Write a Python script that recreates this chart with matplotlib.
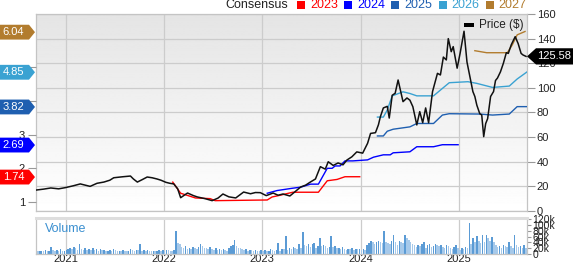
import matplotlib
matplotlib.use('Agg')
import matplotlib.pyplot as plt
import numpy as np
from matplotlib.patches import Polygon, Rectangle
from matplotlib.transforms import blended_transform_factory

plt.rcParams['font.family'] = ['Liberation Sans', 'DejaVu Sans']

# weekly close ($), dates as decimal years
price_dates = [2020.70, 2020.78, 2020.85, 2020.93, 2021.00, 2021.08, 2021.15, 2021.25, 2021.32, 2021.39,
               2021.45, 2021.49, 2021.58, 2021.66, 2021.69, 2021.73, 2021.78, 2021.83, 2021.88, 2021.93,
               2021.97, 2022.02, 2022.06, 2022.10, 2022.14, 2022.17, 2022.21, 2022.24, 2022.30, 2022.34,
               2022.42, 2022.49, 2022.55, 2022.60, 2022.66, 2022.73, 2022.77, 2022.81, 2022.88, 2022.93,
               2022.98, 2023.04, 2023.11, 2023.16, 2023.21, 2023.28, 2023.33, 2023.39, 2023.44, 2023.49,
               2023.54, 2023.59, 2023.64, 2023.67, 2023.72, 2023.77, 2023.82, 2023.86, 2023.91, 2023.96,
               2024.02, 2024.07, 2024.10, 2024.15, 2024.18, 2024.20, 2024.23, 2024.27, 2024.29, 2024.32,
               2024.35, 2024.38, 2024.43, 2024.47, 2024.50, 2024.53, 2024.57, 2024.60, 2024.63, 2024.66,
               2024.69, 2024.73, 2024.78, 2024.81, 2024.84, 2024.87, 2024.89, 2024.92, 2024.94, 2024.98,
               2025.01, 2025.05, 2025.08, 2025.11, 2025.14, 2025.16, 2025.18, 2025.21, 2025.23, 2025.25,
               2025.27, 2025.29, 2025.32, 2025.35, 2025.37, 2025.39, 2025.42, 2025.45, 2025.48, 2025.50,
               2025.53, 2025.57, 2025.60, 2025.63, 2025.65, 2025.68]
price_values = [17.0, 17.8, 18.7, 18.0, 19.0, 20.5, 22.0, 20.0, 22.5, 23.5,
                25.0, 27.0, 27.8, 28.4, 26.0, 23.5, 25.5, 27.6, 27.0, 26.0,
                25.0, 23.3, 22.5, 22.0, 18.0, 10.8, 13.0, 14.6, 12.5, 11.4,
                10.0, 8.4, 10.5, 13.8, 11.5, 10.6, 13.0, 15.4, 14.0, 15.0,
                14.9, 12.5, 14.6, 12.8, 13.8, 12.2, 15.5, 19.5, 21.0, 23.6,
                26.0, 36.0, 34.0, 40.0, 37.0, 39.0, 37.5, 41.4, 44.0, 48.0,
                47.0, 55.0, 63.0, 63.6, 70.0, 76.6, 83.7, 85.0, 75.5, 94.0,
                95.6, 106.4, 88.8, 91.8, 90.0, 84.7, 69.9, 80.7, 71.7, 83.7,
                71.7, 97.0, 111.8, 110.5, 125.0, 122.7, 140.0, 129.4, 133.5, 116.0,
                128.0, 146.0, 121.0, 109.0, 97.0, 93.0, 86.0, 79.0, 78.0, 60.4,
                71.0, 75.0, 93.0, 97.0, 106.0, 108.0, 113.0, 120.0, 128.6, 128.0,
                135.0, 141.6, 136.0, 128.0, 126.7, 125.58]
last_price = 125.58

# consensus EPS by fiscal year
eps23_dates = [2022.09, 2022.17, 2022.32, 2022.47, 2022.52, 2023.05, 2023.10, 2023.15, 2023.31, 2023.57,
               2023.66, 2023.76, 2023.84, 2023.99]
eps23_values = [1.59, 1.26, 1.12, 1.10, 1.04, 1.06, 1.15, 1.18, 1.29, 1.29, 1.63, 1.67, 1.75, 1.75]
eps24_dates = [2023.05, 2023.15, 2023.31, 2023.39, 2023.49, 2023.57, 2023.66, 2023.71, 2023.74, 2023.79,
               2023.84, 2023.92, 2024.07, 2024.13, 2024.23, 2024.30, 2024.33, 2024.50, 2024.57, 2024.74,
               2024.83, 2024.99]
eps24_values = [1.26, 1.34, 1.41, 1.44, 1.53, 1.53, 2.00, 2.00, 2.07, 2.07,
                2.22, 2.22, 2.25, 2.33, 2.40, 2.40, 2.46, 2.49, 2.64, 2.64, 2.70, 2.70]
eps25_dates = [2024.17, 2024.23, 2024.27, 2024.33, 2024.50, 2024.57, 2024.74, 2024.83, 2024.90, 2025.21,
               2025.34, 2025.51, 2025.59, 2025.69]
eps25_values = [2.96, 2.96, 3.10, 3.16, 3.23, 3.33, 3.33, 3.58, 3.62, 3.61, 3.58, 3.61, 3.83, 3.83]
eps26_dates = [2024.17, 2024.23, 2024.27, 2024.32, 2024.43, 2024.50, 2024.57, 2024.74, 2024.83, 2024.90,
               2025.09, 2025.18, 2025.34, 2025.51, 2025.59, 2025.69]
eps26_values = [3.52, 3.52, 3.73, 4.15, 4.27, 4.22, 4.15, 4.15, 4.37, 4.54, 4.57, 4.52, 4.40, 4.44, 4.65, 4.86]
eps27_dates = [2025.16, 2025.28, 2025.49, 2025.54, 2025.59, 2025.67]
eps27_values = [5.49, 5.43, 5.43, 5.66, 5.96, 6.06]

fiscal_years = ['2023', '2024', '2025', '2026', '2027']
latest_eps = [1.74, 2.69, 3.82, 4.85, 6.04]
eps_colors = ['#ff0000', '#0000ff', '#1f5fb0', '#3aa2d2', '#b27c2e']

# weekly volume (thousands), first week at 2020.70
vol_start = 2020.70
vol_2020 = [12, 10, 11, 12, 10, 13, 11, 12, 24, 14, 9, 13, 12, 18, 10, 11]
vol_2021 = [14, 18, 22, 16, 24, 20, 14, 34, 18, 15, 22, 13, 17, 15, 19, 14, 16, 12, 18, 13, 15, 11, 12, 14, 12, 16,
            13, 11, 12, 10, 14, 12, 9, 11, 16, 14, 12, 15, 13, 36, 12, 14, 11, 13, 12, 10, 11, 9, 12, 14, 11, 13]
vol_2022 = [12, 15, 13, 11, 10, 14, 80, 38, 36, 24, 20, 28, 18, 22, 17, 25, 20, 18, 24, 36, 26, 22, 20, 18, 24, 16,
            14, 20, 15, 18, 13, 16, 14, 12, 20, 26, 30, 47, 28, 22, 20, 16, 14, 18, 12, 15, 13, 11, 14, 12, 10, 13]
vol_2023 = [11, 14, 10, 12, 16, 13, 11, 15, 39, 12, 18, 16, 62, 14, 22, 18, 25, 20, 17, 34, 22, 76, 30, 28, 35, 24,
            33, 39, 20, 26, 54, 28, 30, 26, 22, 25, 62, 24, 28, 20, 22, 18, 25, 17, 15, 18, 16, 20, 15, 17, 16, 18]
vol_2024 = [14, 16, 15, 31, 38, 45, 40, 35, 42, 45, 40, 38, 80, 42, 38, 35, 45, 65, 40, 32, 45, 42, 38, 64, 55, 48,
            40, 35, 30, 25, 32, 28, 35, 40, 22, 30, 33, 25, 28, 35, 30, 27, 32, 25, 22, 30, 28, 20, 18, 25, 30, 22]
vol_2025 = [15, 20, 18, 25, 22, 108, 35, 55, 40, 63, 45, 38, 65, 42, 65, 55, 45, 60, 40, 30, 25, 28, 22, 30,
            27, 25, 40, 28, 22, 65, 30, 25, 28, 22, 30, 20]

year_ticks = [2021, 2022, 2023, 2024, 2025]
x_range = (2020.70, 2025.69)

W, H = 573, 264
fig = plt.figure(figsize=(W / 100, H / 100), dpi=100)


def fx(px):
    return px / W


def fy(py):
    return 1 - py / H


grid_c = '#cccccc'
text_c = '#222222'

ax = fig.add_axes([fx(36), fy(211), fx(527) - fx(36), fy(14) - fy(211)])  # price, right axis
ax_eps = ax.twinx()  # consensus, left axis
axv = fig.add_axes([fx(36), fy(254), fx(527) - fx(36), fy(218) - fy(254)])
pw = 491.0  # panel width in px
ph = 197.0  # panel height in px

# gray gradient behind the price panel
grad = np.linspace(0.895, 1.0, 200).reshape(-1, 1)
ax.imshow(grad, cmap='gray', vmin=0, vmax=1, extent=[0, 1, 0, 1], transform=ax.transAxes,
          aspect='auto', zorder=0)

ax.set_xlim(*x_range)
ax.set_ylim(0, 160)
ax.set_yticks(np.arange(0, 161, 20))
ax.set_xticks(year_ticks)
ax.grid(True, color=grid_c, lw=0.9)
ax.set_axisbelow(True)
ax.tick_params(axis='x', length=0, labelbottom=False)
ax.tick_params(axis='y', length=6, width=0.8, color='#999999', labelsize=8, labelcolor=text_c, pad=1)
ax.yaxis.tick_right()
for s in ax.spines.values():
    s.set_color('#c4c4c4')
    s.set_linewidth(0.9)

ax_eps.yaxis.tick_left()
ax_eps.set_yticks([1, 2, 3, 4, 5])
ax_eps.set_yticklabels(['1', '2', '3', '', ''])  # 4 and 5 sit behind the value tags
ax_eps.tick_params(axis='y', length=6, width=0.8, color='#999999', labelsize=8, labelcolor=text_c, pad=2)
for s in ax_eps.spines.values():
    s.set_visible(False)

eps_series = [(eps23_dates, eps23_values), (eps24_dates, eps24_values), (eps25_dates, eps25_values),
              (eps26_dates, eps26_values), (eps27_dates, eps27_values)]
for (d, v), c in zip(eps_series, eps_colors):
    ax_eps.plot(d, v, color=c, lw=1.0, zorder=3)

# price on top of the consensus lines, drawn with the price scale
ax_eps.plot(price_dates, price_values, color='#111111', lw=1.1, zorder=4, transform=ax.transData)
ax_eps.set_ylim(0.733, 6.579)
ax_eps.set_xlim(*x_range)

# consensus value tags on the left
tr_l = blended_transform_factory(ax.transAxes, ax_eps.transData)
for val, c in zip(latest_eps, eps_colors):
    h = 0.22
    x0, x1, xt = -36 / pw, -7 / pw, -1 / pw
    ax_eps.add_patch(Polygon([(x0, val - h), (x1, val - h), (xt, val), (x1, val + h), (x0, val + h)],
                             closed=True, fc=c, ec='none', transform=tr_l, clip_on=False, zorder=10))
    ax_eps.text(-22.5 / pw, val, f'{val:.2f}', color='white', fontsize=8, ha='center', va='center',
                transform=tr_l, clip_on=False, zorder=11)

# last price tag on the right
tr_r = blended_transform_factory(ax.transAxes, ax.transData)
h = 6.6
x0, x1 = 1 + 9 / pw, 1 + 46 / pw
ax_eps.add_patch(Polygon([(1.0, last_price), (x0, last_price - h), (x1, last_price - h),
                          (x1, last_price + h), (x0, last_price + h)],
                         closed=True, fc='black', ec='none', transform=tr_r, clip_on=False, zorder=10))
ax_eps.text(1 + 27 / pw, last_price, f'{last_price:.2f}', color='white', fontsize=8, ha='center',
            va='center', transform=tr_r, clip_on=False, zorder=11)

# price legend inside the panel
ax_eps.add_patch(Rectangle(((464 - 36) / pw, 1 - 12.7 / ph), 10 / pw, 4 / ph, fc='black', ec='none',
                           transform=ax.transAxes, zorder=6))
ax_eps.text((479 - 36) / pw, 1 - 11 / ph, 'Price ($)', fontsize=8.5, color=text_c, va='center',
            ha='left', transform=ax.transAxes, zorder=6)

# top legend
fig.text(fx(225), fy(5.5), 'Consensus', fontsize=9, color=text_c, va='center', ha='left')
for i, (yr, c) in enumerate(zip(fiscal_years, eps_colors)):
    sx = 297 + i * 47.2
    fig.patches.append(Rectangle((fx(sx), fy(9)), 8 / W, 7.5 / H, fc=c, ec='none', transform=fig.transFigure))
    fig.text(fx(sx + 13), fy(5.5), yr, fontsize=9, color=c, va='center', ha='left')

# volume panel
vol = vol_2020 + vol_2021 + vol_2022 + vol_2023 + vol_2024 + vol_2025
wk = vol_start + np.arange(len(vol)) / 52.0
vol_colors = ['#5b9bd5' if i > 0 and vol[i] > vol[i - 1] else '#a6c9ea' for i in range(len(vol))]
axv.bar(wk, vol, width=0.8 / 52, color=vol_colors, align='center', zorder=2)
axv.set_xlim(*x_range)
axv.set_ylim(0, 124)
axv.set_xticks(year_ticks)
axv.set_xticklabels([str(y) for y in year_ticks])
axv.grid(True, axis='x', color=grid_c, lw=0.9)
axv.set_axisbelow(True)
axv.yaxis.tick_right()
axv.set_yticks(np.arange(0, 121, 20))
axv.set_yticklabels(['0'] + [f'{v}k' for v in range(20, 121, 20)])
axv.tick_params(axis='y', length=3, width=0.8, color='#999999', labelsize=7.5, labelcolor=text_c, pad=1)
axv.tick_params(axis='x', length=0, labelsize=8, labelcolor=text_c, pad=0)
for s in axv.spines.values():
    s.set_color('#c4c4c4')
    s.set_linewidth(0.9)
axv.spines['top'].set_color('#dedede')
axv.spines['top'].set_linewidth(2.2)
axv.text(9 / pw, 0.69, 'Volume', fontsize=9, color='#3a8fd0', va='center', ha='left', transform=axv.transAxes)

plt.savefig('out.png', dpi=100)
